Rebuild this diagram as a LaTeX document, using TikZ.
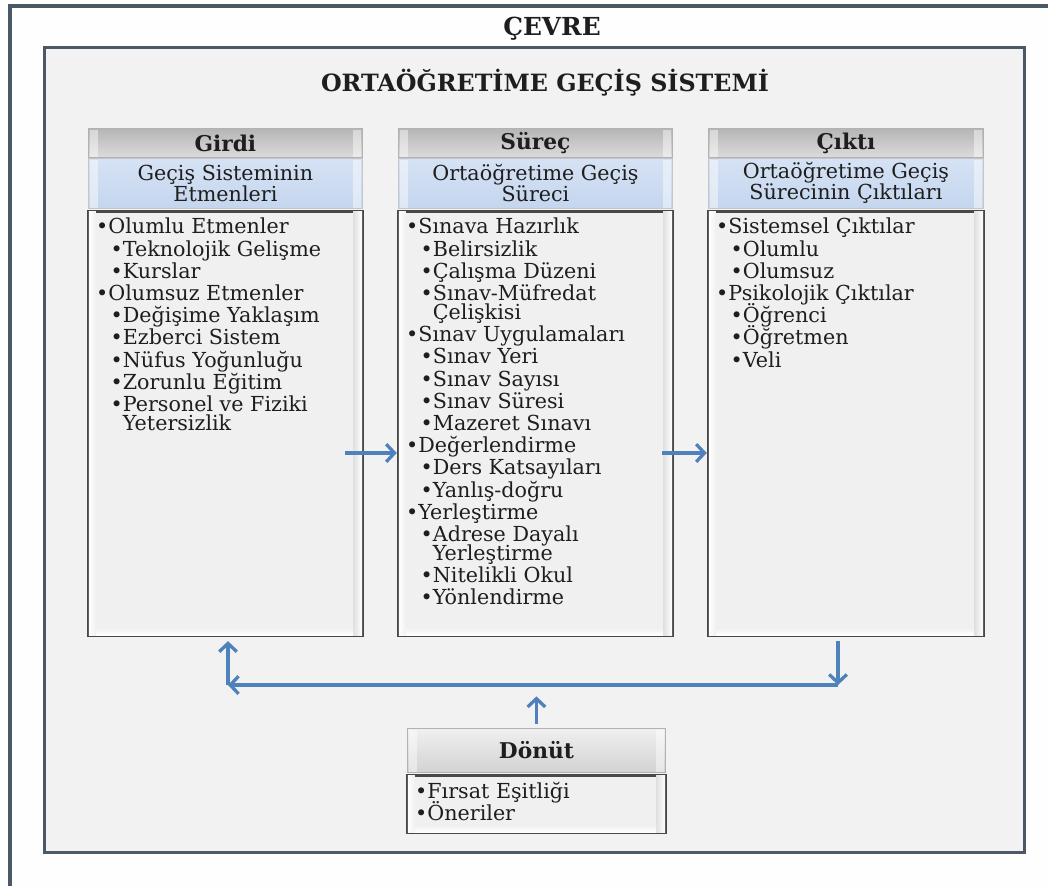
\documentclass[tikz,border=0pt]{standalone}
\usepackage{fontspec}
\setmainfont{DejaVu Serif}
\usetikzlibrary{arrows.meta,calc,positioning}

\definecolor{pagewhite}{HTML}{FEFEFE}
\definecolor{framecol}{HTML}{4B5866}
\definecolor{sysgray}{HTML}{F2F2F2}
\definecolor{bodygray}{HTML}{F0F0F0}
\definecolor{boxline}{HTML}{484848}
\definecolor{subtop}{HTML}{D6E2F4}
\definecolor{subbot}{HTML}{C4D6EE}
\definecolor{flowblue}{HTML}{4F81BD}
\definecolor{inkcol}{HTML}{1E1E1E}

\newcommand\pxu{0.017cm}
\newcommand\lvone[1]{•#1}
\newcommand\lvtwo[1]{\hspace*{7pt}•#1}
\newcommand\lvcont[1]{\hspace*{7pt}\phantom{•}#1}

\tikzset{
  ttlbar/.style={draw=gray!60, top color=gray!58, bottom color=gray!28,
    minimum height=29*\pxu, inner sep=0pt, text=inkcol,
    font=\fontsize{10.5}{12}\selectfont\bfseries},
  subbar/.style={draw=gray!45, top color=subtop, bottom color=subbot,
    minimum height=50*\pxu, inner sep=0pt, align=center, text=inkcol,
    font=\fontsize{10}{10.2}\selectfont},
  bodybox/.style={draw=boxline, line width=1.6pt, fill=bodygray, inner sep=0pt},
  itemtxt/.style={inner sep=0pt, align=left, text=inkcol,
    font=\fontsize{10}{10.74}\selectfont},
  flow/.style={draw=flowblue, line width=1.6pt,
    -{Straight Barb[length=4pt,width=8.5pt]}},
}

\begin{document}
\lineskiplimit=-5pt
\begin{tikzpicture}[x=0.017cm, y=-0.017cm]

    \useasboundingbox[fill=pagewhite] (0,0) rectangle (1048,886);

    %% Environment frame
    \draw[framecol, line width=1.5pt] (10,886) -- (10,6) -- (1048,6);
    \node[text=inkcol, font=\fontsize{12}{14}\selectfont\bfseries] (cevre) at (552,29) {ÇEVRE};

    %% System frame
    \node[draw=framecol, line width=1.5pt, fill=sysgray, anchor=north west,
      minimum width=980*\pxu, minimum height=805*\pxu] (sistem) at (43,46) {};
    \node[text=inkcol, font=\fontsize{11.5}{14}\selectfont\bfseries] (sistemT) at (545,83)
      {ORTAÖĞRETİME GEÇİŞ SİSTEMİ};

    % Girdi
    \node[ttlbar, minimum width=274*\pxu, anchor=north west] (girdiT) at (88,128) {Girdi};
    \node[subbar, minimum width=274*\pxu, below=0pt of girdiT] (girdiS) {Geçiş Sisteminin\\Etmenleri};
    \node[bodybox, minimum width=274*\pxu, minimum height=424*\pxu, below=0.5pt of girdiS] (girdiB) {};

    % Surec
    \node[ttlbar, minimum width=274*\pxu, anchor=north west] (surecT) at (398,128) {Süreç};
    \node[subbar, minimum width=274*\pxu, below=0pt of surecT] (surecS) {Ortaöğretime Geçiş\\Süreci};
    \node[bodybox, minimum width=274*\pxu, minimum height=424*\pxu, below=0.5pt of surecS] (surecB) {};

    % Cikti
    \node[ttlbar, minimum width=275*\pxu, anchor=north west] (ciktiT) at (708,128) {Çıktı};
    \node[subbar, minimum width=275*\pxu, below=0pt of ciktiT] (ciktiS) {Ortaöğretime Geçiş\\Sürecinin Çıktıları};
    \node[bodybox, minimum width=275*\pxu, minimum height=424*\pxu, below=0.5pt of ciktiS] (ciktiB) {};

    % Donut
    \node[ttlbar, top color=gray!12, bottom color=gray!35, minimum width=258*\pxu, minimum height=44*\pxu,
      anchor=north west] (donutT) at (407,728) {Dönüt};
    \node[bodybox, minimum width=258*\pxu, minimum height=57*\pxu, below=0.5pt of donutT] (donutB) {};

    % bevel strips
    \foreach \b in {girdiT,girdiS,surecT,surecS,ciktiT,ciktiS,donutT}{
      \fill[white, opacity=0.45] ($(\b.north west)+(2,2)$) rectangle ($(\b.south west)+(10,-1)$);
      \fill[white, opacity=0.45] ($(\b.north east)+(-10,2)$) rectangle ($(\b.south east)+(-2,-1)$);
    }
    \foreach \b in {girdiB,surecB,ciktiB,donutB}{
      \shade[left color=white, right color=bodygray] ($(\b.north west)+(2,2)$) rectangle ($(\b.south west)+(9,-2)$);
      \shade[left color=gray!25, right color=white] ($(\b.north east)+(-11,2)$) rectangle ($(\b.south east)+(-2,-2)$);
      \shade[top color=bodygray, bottom color=white] ($(\b.south west)+(9,-9)$) rectangle ($(\b.south east)+(-11,-2)$);
    }

    % Items
    \node[itemtxt, anchor=north west] (girdiL) at ($(girdiB.north west)+(9,8)$) {%
      \lvone{Olumlu Etmenler}\\
      \lvtwo{Teknolojik Gelişme}\\
      \lvtwo{Kurslar}\\
      \lvone{Olumsuz Etmenler}\\
      \lvtwo{Değişime Yaklaşım}\\
      \lvtwo{Ezberci Sistem}\\
      \lvtwo{Nüfus Yoğunluğu}\\
      \lvtwo{Zorunlu Eğitim}\\
      \lvtwo{Personel ve Fiziki}\\[-1.55pt]
      \lvcont{Yetersizlik}};

    \node[itemtxt, anchor=north west] (surecL) at ($(surecB.north west)+(9,8)$) {%
      \lvone{Sınava Hazırlık}\\
      \lvtwo{Belirsizlik}\\
      \lvtwo{Çalışma Düzeni}\\
      \lvtwo{Sınav-Müfredat}\\[-1.55pt]
      \lvcont{Çelişkisi}\\
      \lvone{Sınav Uygulamaları}\\
      \lvtwo{Sınav Yeri}\\
      \lvtwo{Sınav Sayısı}\\
      \lvtwo{Sınav Süresi}\\
      \lvtwo{Mazeret Sınavı}\\
      \lvone{Değerlendirme}\\
      \lvtwo{Ders Katsayıları}\\
      \lvtwo{Yanlış-doğru}\\
      \lvone{Yerleştirme}\\
      \lvtwo{Adrese Dayalı}\\[-1.55pt]
      \lvcont{Yerleştirme}\\
      \lvtwo{Nitelikli Okul}\\
      \lvtwo{Yönlendirme}};

    \node[itemtxt, anchor=north west] (ciktiL) at ($(ciktiB.north west)+(9,8)$) {%
      \lvone{Sistemsel Çıktılar}\\
      \lvtwo{Olumlu}\\
      \lvtwo{Olumsuz}\\
      \lvone{Psikolojik Çıktılar}\\
      \lvtwo{Öğrenci}\\
      \lvtwo{Öğretmen}\\
      \lvtwo{Veli}};

    \node[itemtxt, anchor=north west] (donutL) at ($(donutB.north west)+(9,8)$) {%
      \lvone{Fırsat Eşitliği}\\
      \lvone{Öneriler}};

    %% Flow arrows
    \coordinate (inA) at (345,453);
    \coordinate (inB) at (662,453);
    \draw[flow] (inA) -- (surecB.west |- inA);
    \draw[flow] (inB) -- (ciktiB.west |- inB);

    %% Feedback loop
    \coordinate (fbL) at (228,685);
    \coordinate (fbR) at (838,685);
    \draw[flow, shorten >=2pt] (fbL) -- (girdiB.south -| fbL);
    \draw[flow, shorten <=2pt] (ciktiB.south -| fbR) -- (fbR);
    \draw[flow] (fbR) -- (fbL);
    \draw[flow, shorten >=5.5pt, shorten <=2pt] (donutT.north) -- (donutT.north |- fbL);

\end{tikzpicture}
\end{document}
